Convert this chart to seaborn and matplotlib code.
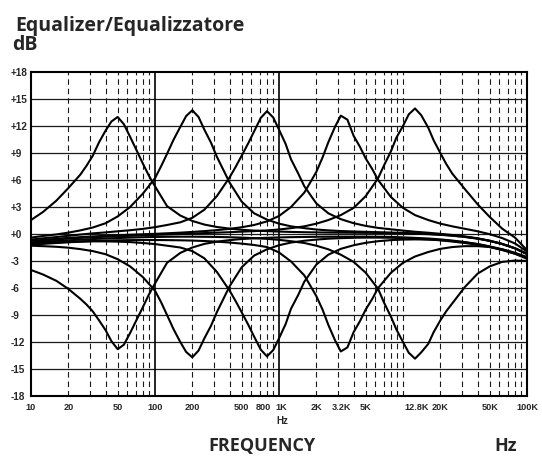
import matplotlib
matplotlib.use("Agg")
import matplotlib.pyplot as plt
import matplotlib.transforms as mtransforms
from matplotlib.ticker import NullLocator, FixedLocator
import pandas as pd
import seaborn as sns

# 1/3-octave frequencies (Hz)
FREQ = [10, 12.5, 16, 20, 25, 31.5, 40, 50, 63, 80,
        100, 125, 160, 200, 250, 315, 400, 500, 630, 800,
        1000, 1250, 1600, 2000, 2500, 3150, 4000, 5000, 6300, 8000,
        10000, 12500, 16000, 20000, 25000, 31500, 40000, 50000, 63000, 80000,
        100000]

# boost curves (dB)
B50 = [1.55, 2.45, 3.7, 5.1, 6.6, 8.7, 11.5, 13.0, 10.8, 7.8,
       5.3, 3.1, 2.05, 1.45, 1.05, 0.78, 0.6, 0.47, 0.38, 0.32,
       0.27, 0.23, 0.2, 0.18, 0.16, 0.15, 0.14, 0.13, 0.12, 0.1,
       0.07, 0.03, -0.02, -0.09, -0.19, -0.33, -0.52, -0.77, -1.12, -1.6,
       -2.25]
B200 = [-0.4, -0.22, -0.05, 0.15, 0.4, 0.72, 1.2, 1.95, 3.0, 4.5,
        6.2, 8.9, 11.9, 13.75, 11.6, 8.6, 5.7, 3.6, 2.3, 1.6,
        1.15, 0.85, 0.65, 0.5, 0.4, 0.33, 0.28, 0.24, 0.2, 0.16,
        0.12, 0.07, 0.01, -0.07, -0.17, -0.31, -0.5, -0.75, -1.1, -1.58,
        -2.2]
B800 = [-0.62, -0.48, -0.34, -0.2, -0.06, 0.07, 0.18, 0.3, 0.42, 0.57,
        0.76, 1.0, 1.3, 1.8, 2.7, 4.2, 6.3, 8.7, 11.4, 13.65,
        11.6, 8.3, 5.3, 3.4, 2.3, 1.65, 1.2, 0.9, 0.68, 0.52,
        0.38, 0.25, 0.14, 0.02, -0.11, -0.27, -0.48, -0.75, -1.1, -1.58,
        -2.2]
B3K2 = [-0.8, -0.66, -0.54, -0.44, -0.35, -0.27, -0.2, -0.14, -0.08, -0.03,
        0.02, 0.08, 0.15, 0.23, 0.32, 0.43, 0.57, 0.75, 1.0, 1.4,
        2.0, 3.0, 4.6, 6.9, 10.2, 13.15, 10.9, 8.4, 6.0, 4.1,
        2.9, 2.1, 1.55, 1.15, 0.85, 0.58, 0.3, -0.02, -0.45, -1.05,
        -1.95]
B12K8 = [-0.85, -0.7, -0.6, -0.5, -0.43, -0.36, -0.3, -0.25, -0.2, -0.15,
         -0.1, -0.05, 0.0, 0.05, 0.1, 0.15, 0.2, 0.26, 0.32, 0.4,
         0.5, 0.65, 0.85, 1.15, 1.55, 2.1, 2.9, 4.2, 6.2, 9.2,
         12.0, 13.95, 11.8, 9.0, 6.7, 5.0, 3.3, 1.9, 0.6, -0.4,
         -1.8]

# cut curves (dB)
C50 = [-4.0, -4.5, -5.2, -6.1, -7.2, -8.6, -10.7, -12.8, -11.0, -8.1,
       -5.5, -3.2, -2.1, -1.5, -1.1, -0.85, -0.68, -0.56, -0.48, -0.42,
       -0.38, -0.35, -0.33, -0.31, -0.3, -0.3, -0.3, -0.3, -0.31, -0.33,
       -0.37, -0.43, -0.5, -0.6, -0.73, -0.9, -1.12, -1.4, -1.75, -2.2,
       -2.75]
C200 = [-1.3, -1.35, -1.42, -1.52, -1.68, -1.9, -2.25, -2.8, -3.6, -4.8,
        -6.3, -9.0, -12.0, -13.7, -11.6, -8.7, -5.8, -3.7, -2.4, -1.7,
        -1.25, -0.95, -0.75, -0.62, -0.52, -0.46, -0.42, -0.4, -0.4, -0.42,
        -0.46, -0.52, -0.6, -0.7, -0.84, -1.0, -1.2, -1.45, -1.78, -2.18,
        -2.65]
C800 = [-1.2, -1.1, -1.0, -0.92, -0.86, -0.82, -0.82, -0.85, -0.9, -1.0,
        -1.12, -1.3, -1.5, -1.9, -2.7, -4.2, -6.3, -8.7, -11.4, -13.6,
        -11.6, -8.3, -5.3, -3.4, -2.3, -1.65, -1.25, -0.98, -0.8, -0.68,
        -0.62, -0.6, -0.62, -0.68, -0.78, -0.92, -1.12, -1.38, -1.7, -2.1,
        -2.55]
C3K2 = [-1.05, -1.0, -0.94, -0.88, -0.82, -0.77, -0.73, -0.7, -0.68, -0.67,
        -0.67, -0.68, -0.7, -0.73, -0.78, -0.85, -0.95, -1.07, -1.22, -1.45,
        -2.05, -3.05, -4.6, -6.9, -10.1, -13.05, -10.9, -8.4, -6.0, -4.3,
        -3.2, -2.5, -2.0, -1.65, -1.45, -1.35, -1.35, -1.45, -1.7, -2.1,
        -2.7]
C12K8 = [-0.95, -0.85, -0.78, -0.7, -0.63, -0.56, -0.5, -0.45, -0.4, -0.36,
         -0.33, -0.31, -0.3, -0.3, -0.31, -0.33, -0.36, -0.4, -0.46, -0.54,
         -0.65, -0.8, -1.0, -1.3, -1.7, -2.3, -3.1, -4.3, -6.1, -9.2,
         -12.0, -13.85, -12.2, -9.6, -7.7, -5.9, -4.4, -3.6, -3.1, -2.95,
         -3.0]

# extra readings around each peak (1/6-octave in-between points)
PEAK_F_50 = [28.1, 35.4, 44.5, 56.1, 70.7, 89.1]
B50_PEAK = [7.6, 10.2, 12.5, 12.2, 9.35, 6.5]
C50_PEAK = [-7.85, -9.6, -11.9, -12.3, -9.6, -6.75]

PEAK_F_200 = [112.2, 141.4, 178.2, 224.5, 282.8, 356.4]
B200_PEAK = [7.55, 10.5, 13.1, 13.0, 10.15, 7.1]
C200_PEAK = [-7.6, -10.6, -13.1, -12.95, -10.2, -7.2]

PEAK_F_800 = [448.9, 565.7, 712.7, 898.0, 1131.4, 1425.4]
B800_PEAK = [7.5, 10.1, 12.9, 12.95, 10.0, 6.75]
C800_PEAK = [-7.5, -10.1, -12.85, -12.9, -10.0, -6.8]

PEAK_F_3K2 = [1782, 2245, 2828, 3563, 4490, 5657]
B3K2_PEAK = [5.7, 8.5, 11.9, 12.7, 9.7, 7.2]
C3K2_PEAK = [-5.7, -8.4, -11.8, -12.6, -9.7, -7.2]

PEAK_F_12K8 = [7016, 8839, 11136, 14031, 17678, 22272]
B12K8_PEAK = [7.6, 10.7, 13.3, 13.2, 10.4, 7.8]
C12K8_PEAK = [-7.6, -10.6, -13.2, -13.15, -10.9, -8.6]

CURVES = [
    ("B50", B50, PEAK_F_50, B50_PEAK), ("C50", C50, PEAK_F_50, C50_PEAK),
    ("B200", B200, PEAK_F_200, B200_PEAK), ("C200", C200, PEAK_F_200, C200_PEAK),
    ("B800", B800, PEAK_F_800, B800_PEAK), ("C800", C800, PEAK_F_800, C800_PEAK),
    ("B3K2", B3K2, PEAK_F_3K2, B3K2_PEAK), ("C3K2", C3K2, PEAK_F_3K2, C3K2_PEAK),
    ("B12K8", B12K8, PEAK_F_12K8, B12K8_PEAK), ("C12K8", C12K8, PEAK_F_12K8, C12K8_PEAK),
]

Y_TICKS = [-18, -15, -12, -9, -6, -3, 0, 3, 6, 9, 12, 15, 18]
Y_LABELS = ["-18", "-15", "-12", "-9", "-6", "-3", "+0", "+3", "+6", "+9",
            "+12", "+15", "+18"]
X_TICKS = [10, 20, 50, 100, 200, 500, 800, 1000, 2000, 3200, 5000, 12800,
           20000, 50000, 100000]
X_LABELS = ["10", "20", "50", "100", "200", "500", "800", "1K", "2K", "3.2K",
            "5K", "12.8K", "20K", "50K", "100K"]

rows = []
for name, vals, pf, pv in CURVES:
    pts = sorted(list(zip(FREQ, vals)) + list(zip(pf, pv)))
    for order, (f, v) in enumerate(pts):
        rows.append({"freq": f, "db": v, "curve": name, "order": order})
df = pd.DataFrame(rows).sort_values(["curve", "order"])

sns.set_theme(style="white")
plt.rcParams["font.family"] = ["Open Sans", "DejaVu Sans"]
NARROW = ["Liberation Sans Narrow", "Liberation Sans", "DejaVu Sans"]

W, H = 542, 457
fig = plt.figure(figsize=(W / 100, H / 100), dpi=100)
ax = fig.add_axes([31 / W, (H - 396) / H, 496 / W, 324 / H])

# grid
for y in Y_TICKS[1:-1]:
    ax.axhline(y, color="#1a1a1a", lw=0.9, zorder=1)
for dec in [10, 100, 1000, 10000]:
    for m in range(2, 10):
        ax.axvline(dec * m, color="#1a1a1a", lw=0.8, ls=(0, (5, 3.5)), zorder=1)
ax.axvline(10000, color="#1a1a1a", lw=0.8, ls=(0, (5, 3.5)), zorder=1)
for f in [100, 1000]:
    ax.axvline(f, color="black", lw=1.2, zorder=1)

sns.lineplot(data=df, x="freq", y="db", units="curve", estimator=None,
             color="black", lw=1.5, ax=ax, sort=False, zorder=3)

ax.set_xscale("log")
ax.set_xlim(10, 100000)
ax.set_ylim(-18, 18)
ax.set_xlabel("")
ax.set_ylabel("")
ax.xaxis.set_major_locator(FixedLocator(X_TICKS))
ax.xaxis.set_minor_locator(NullLocator())
ax.set_xticklabels(X_LABELS, family=NARROW, fontweight="bold", fontsize=6.6)
ax.set_yticks(Y_TICKS)
ax.set_yticklabels(Y_LABELS, family=NARROW, fontweight="bold", fontsize=7.2,
                   ha="left")
ax.tick_params(axis="x", length=0, pad=5)
ax.tick_params(axis="y", length=0, pad=15)
for s in ax.spines.values():
    s.set_color("black")
    s.set_linewidth(1.5)

# the crowded "800" / "1K" labels sit slightly apart, as in the original
for lab in ax.get_xticklabels():
    if lab.get_text() == "800":
        lab.set_transform(lab.get_transform() + mtransforms.ScaledTranslation(
            -3.5 / 100, 0, fig.dpi_scale_trans))
    elif lab.get_text() == "1K":
        lab.set_transform(lab.get_transform() + mtransforms.ScaledTranslation(
            2 / 100, 0, fig.dpi_scale_trans))

fig.text(282 / W, 1 - 424 / H, "Hz", family=NARROW, fontweight="bold",
         fontsize=7, ha="center", va="baseline")
fig.text(15 / W, 1 - 30.7 / H, "Equalizer/Equalizzatore", fontsize=14,
         fontweight="bold", ha="left", va="baseline")
fig.text(12 / W, 1 - 50 / H, "dB", fontsize=14, fontweight="bold",
         ha="left", va="baseline")
fig.text(262 / W, 1 - 451 / H, "FREQUENCY", fontsize=13, fontweight="bold",
         ha="center", va="baseline")
fig.text(506 / W, 1 - 451 / H, "Hz", fontsize=13, fontweight="bold",
         ha="center", va="baseline")

fig.savefig("out.png", dpi=100)
